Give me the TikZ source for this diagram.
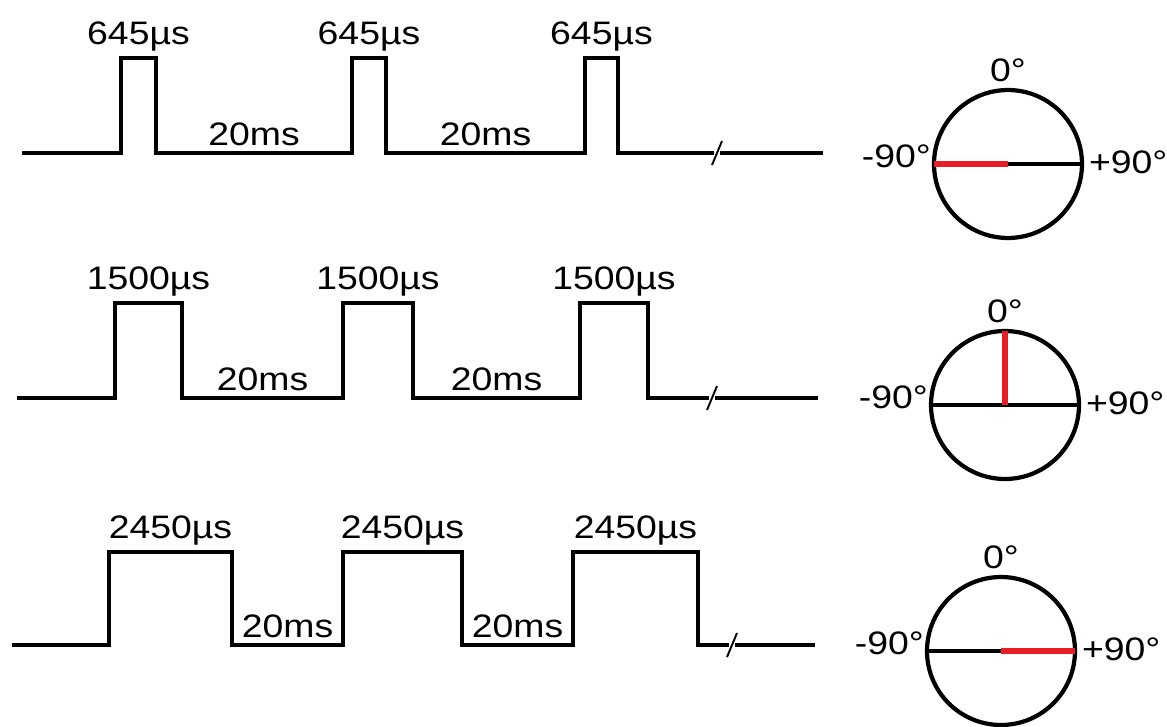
\documentclass[tikz,border=0pt]{standalone}
\usepackage{fontspec}
\setmainfont{Liberation Sans}[FakeStretch=1.15]
\usepackage{xcolor}
\usetikzlibrary{positioning}
\definecolor{needle}{RGB}{232,30,38}

\begin{document}
\begin{tikzpicture}[
	x=0.02cm, y=-0.02cm,
	wave/.style={line width=2.4pt, line join=miter},
	brk/.style={line width=1.1pt},
	dial/.style={draw, circle, line width=2.4pt, minimum size=2.96cm, inner sep=0pt, outer sep=0pt},
	diam/.style={line width=1.9pt},
	hand/.style={draw=needle, line width=3.4pt},
	lbl/.style={font=\fontsize{18.5}{21}\selectfont, inner sep=1pt},
	pulselbl/.style={lbl, midway, anchor=base, yshift=0.28cm},
	gaplbl/.style={lbl, midway, anchor=base, yshift=0.16cm}
]
\useasboundingbox (0,0) rectangle (1167,727);

% 645us pulses
\draw[wave] (22,153) -- (121,153) -- (121,58) -- (156,58) node[pulselbl] (wA1) {645µs}
	-- (156,153) -- (352,153) node[gaplbl] (gA1) {20ms}
	-- (352,58) -- (386,58) node[pulselbl] (wA2) {645µs}
	-- (386,153) -- (585,153) node[gaplbl] (gA2) {20ms}
	-- (585,58) -- (618,58) node[pulselbl] (wA3) {645µs}
	-- (618,153) -- (714,153);
\draw[wave] (720,153) -- (823,153);
\draw[brk] (712,165) -- (722,141);

% 1500us pulses
\draw[wave] (17,398) -- (115,398) -- (115,303) -- (182,303) node[pulselbl] (wB1) {1500µs}
	-- (182,398) -- (343,398) node[gaplbl] (gB1) {20ms}
	-- (343,303) -- (413,303) node[pulselbl] (wB2) {1500µs}
	-- (413,398) -- (580,398) node[gaplbl] (gB2) {20ms}
	-- (580,303) -- (648,303) node[pulselbl] (wB3) {1500µs}
	-- (648,398) -- (709,398);
\draw[wave] (715,398) -- (818,398);
\draw[brk] (707,410) -- (717,386);

% 2450us pulses
\draw[wave] (12,645) -- (109,645) -- (109,552) -- (232,552) node[pulselbl] (wC1) {2450µs}
	-- (232,645) -- (343,645) node[gaplbl] (gC1) {20ms}
	-- (343,552) -- (462,552) node[pulselbl] (wC2) {2450µs}
	-- (462,645) -- (573,645) node[gaplbl] (gC2) {20ms}
	-- (573,552) -- (698,552) node[pulselbl] (wC3) {2450µs}
	-- (698,645) -- (729,645);
\draw[wave] (735,645) -- (815,645);
\draw[brk] (727,657) -- (737,633);

% servo dials
\node[dial] (dialA) at (1008,164) {};
\node[dial] (dialB) at (1005,405) {};
\node[dial] (dialC) at (1001,651) {};

\draw[diam] (dialA.west) -- (dialA.east);
\draw[diam] (dialB.west) -- (dialB.east);
\draw[diam] (dialC.west) -- (dialC.east);

\draw[hand] (dialA.west) -- (dialA.center);
\draw[hand] (dialB.center) -- (dialB.north);
\draw[hand] (dialC.center) -- (dialC.east);

\node[lbl, above=0.12cm of dialA] (topA) {0°};
\node[lbl, left=0.02cm of dialA, yshift=0.16cm] (minA) {-90°};
\node[lbl, right=0.1cm of dialA, yshift=0.04cm] (plusA) {+90°};

\node[lbl, above=0.12cm of dialB] (topB) {0°};
\node[lbl, left=0.02cm of dialB, yshift=0.16cm] (minB) {-90°};
\node[lbl, right=0.1cm of dialB, yshift=0.04cm] (plusB) {+90°};

\node[lbl, above=0.12cm of dialC] (topC) {0°};
\node[lbl, left=0.02cm of dialC, yshift=0.16cm] (minC) {-90°};
\node[lbl, right=0.1cm of dialC, yshift=0.04cm] (plusC) {+90°};

\end{tikzpicture}
\end{document}
